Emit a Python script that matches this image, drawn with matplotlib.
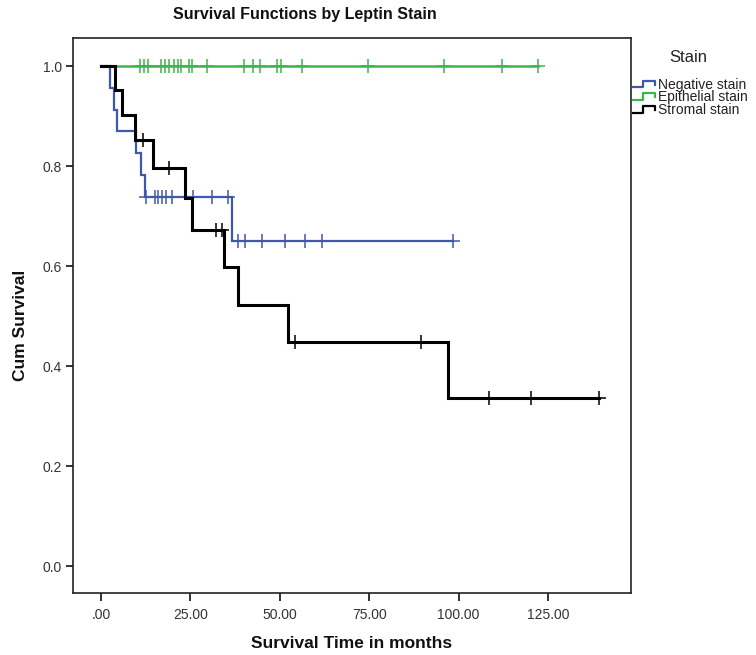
import numpy as np
import matplotlib
matplotlib.use("Agg")
import matplotlib.pyplot as plt
from matplotlib.lines import Line2D
from matplotlib.legend_handler import HandlerBase

plt.rcParams['font.family'] = ['Liberation Sans', 'DejaVu Sans']

# ---------------- data ----------------
groups = ["Negative stain", "Epithelial stain", "Stromal stain"]

neg_event_times = [2.5, 3.6, 4.4, 9.8, 11.2, 12.2, 36.5]
neg_surv = [0.957, 0.913, 0.870, 0.826, 0.783, 0.739, 0.650]
neg_censor_times = [12.6, 15.1, 16.0, 17.0, 18.3, 19.8, 25.8, 31.0, 35.6,
                    38.4, 40.3, 44.9, 51.5, 57.0, 61.7, 98.5]

epi_event_times = []
epi_surv = []
epi_censor_times = [10.9, 11.9, 13.0, 16.8, 17.9, 19.0, 20.3, 21.4, 22.5,
                    24.7, 25.3, 29.6, 40.1, 42.6, 44.5, 49.2, 50.2, 56.1,
                    74.7, 96.0, 112.1, 122.2]

str_event_times = [3.9, 5.8, 9.5, 14.6, 23.5, 25.4, 34.4, 38.4, 52.4, 97.0]
str_surv = [0.953, 0.902, 0.852, 0.796, 0.736, 0.673, 0.598, 0.523, 0.449, 0.336]
str_censor_times = [11.6, 19.1, 32.2, 33.7, 54.3, 89.4, 108.5, 120.2, 139.1]

x_ticks = [0, 25, 50, 75, 100, 125]
x_tick_labels = [".00", "25.00", "50.00", "75.00", "100.00", "125.00"]
y_ticks = [0.0, 0.2, 0.4, 0.6, 0.8, 1.0]
y_tick_labels = ["0.0", "0.2", "0.4", "0.6", "0.8", "1.0"]

colors = ["#3E58AC", "#3DB54A", "#000000"]
widths = [1.6, 1.8, 2.2]

series = [
    (neg_event_times, neg_surv, neg_censor_times),
    (epi_event_times, epi_surv, epi_censor_times),
    (str_event_times, str_surv, str_censor_times),
]

# ---------------- figure ----------------
W, H = 756, 655
fig = plt.figure(figsize=(W / 100, H / 100), dpi=100)
ax = fig.add_axes([73.3 / W, 1 - 593.3 / H, (630.7 - 73.3) / W, (593.3 - 38.3) / H])


def level_at(ev_t, ev_s, t):
    idx = np.searchsorted(np.asarray(ev_t, dtype=float), t, side="right")
    vals = np.concatenate([[1.0], np.asarray(ev_s, dtype=float)])
    return vals[idx]


for (et, es, ct), col, lw in zip(series, colors, widths):
    end_t = max(list(et) + list(ct))
    xs = np.concatenate([[0.0], et, [end_t]])
    ys = np.concatenate([[1.0], es, [es[-1] if len(es) else 1.0]])
    ax.step(xs, ys, where="post", color=col, lw=lw, solid_joinstyle="miter")
    cy = level_at(et, es, np.asarray(ct))
    ax.plot(ct, cy, linestyle="none", marker="+", markersize=9.5,
            markeredgewidth=1.1, color=col)

ax.set_xlim(-7.75, 148.1)
ax.set_ylim(-0.054, 1.056)
ax.set_xticks(x_ticks)
ax.set_xticklabels(x_tick_labels)
ax.set_yticks(y_ticks)
ax.set_yticklabels(y_tick_labels)
for s in ax.spines.values():
    s.set_linewidth(1.2)
    s.set_color("#222222")
ax.tick_params(axis="x", length=6, width=1.3, pad=4.5, labelsize=10,
               colors="#222222", labelcolor="#333333")
ax.tick_params(axis="y", length=5, width=1.3, pad=3, labelsize=10,
               colors="#222222", labelcolor="#333333")

fig.text(305 / W, 1 - 14 / H, "Survival Functions by Leptin Stain", ha="center",
         va="center", fontsize=11.5, fontweight="bold", color="#111111")
fig.text(352 / W, 1 - 644 / H, "Survival Time in months", ha="center",
         va="center", fontsize=12.5, fontweight="bold", color="#111111")
fig.text(21 / W, 1 - 325 / H, "Cum Survival", ha="center", va="center",
         rotation=90, fontsize=12.5, fontweight="bold", color="#111111")
fig.text(688 / W, 1 - 57 / H, "Stain", ha="center", va="center",
         fontsize=12, color="#222222")


class StepHandler(HandlerBase):
    def create_artists(self, legend, orig_handle, xdescent, ydescent,
                       width, height, fontsize, trans):
        x0 = -xdescent
        y0 = -ydescent
        xs = [x0, x0 + 0.45 * width, x0 + 0.45 * width, x0 + width, x0 + width]
        ys = [y0 + 0.15 * height, y0 + 0.15 * height, y0 + 0.85 * height,
              y0 + 0.85 * height, y0 + 0.45 * height]
        ln = Line2D(xs, ys, color=orig_handle.get_color(),
                    lw=orig_handle.get_linewidth(), transform=trans)
        return [ln]


handles = [Line2D([], [], color=c, lw=1.6) for c in colors]
leg = fig.legend(handles, groups, loc="center left",
                 bbox_to_anchor=(633 / W, 1 - 97.5 / H), frameon=False,
                 handler_map={Line2D: StepHandler()}, fontsize=10,
                 handlelength=1.6, handleheight=0.7, handletextpad=0.2,
                 labelspacing=-0.1, borderpad=0, borderaxespad=0)
for t in leg.get_texts():
    t.set_color("#222222")

fig.savefig("out.png", dpi=100)
